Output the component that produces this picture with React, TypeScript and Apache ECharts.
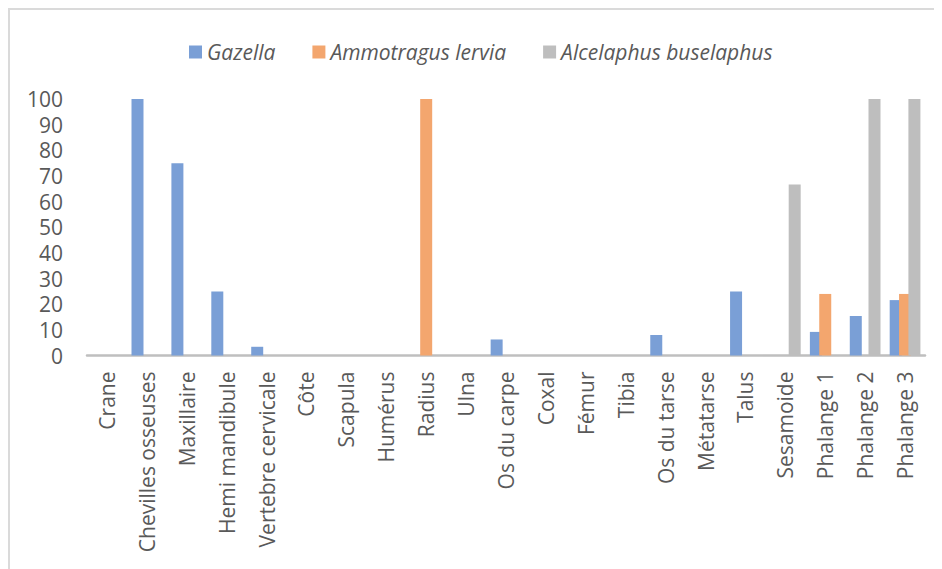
import React, { useEffect, useRef } from "react";
import * as echarts from "echarts";

const categories = [
  "Crane", "Chevilles osseuses", "Maxillaire", "Hemi mandibule", "Vertebre cervicale",
  "Côte", "Scapula", "Humérus", "Radius", "Ulna", "Os du carpe", "Coxal", "Fémur",
  "Tibia", "Os du tarse", "Métatarse", "Talus", "Sesamoide", "Phalange 1", "Phalange 2", "Phalange 3",
];
const seriesNames = ["Gazella", "Ammotragus lervia", "Alcelaphus buselaphus"];
const gazella = [0, 100, 75, 25, 3.4, 0, 0, 0, 0, 0, 6.25, 0, 0, 0, 8, 0, 25, 0, 9.2, 15.4, 21.6];
const ammotragus = [0, 0, 0, 0, 0, 0, 0, 0, 100, 0, 0, 0, 0, 0, 0, 0, 0, 0, 24, 0, 24];
const alcelaphus = [0, 0, 0, 0, 0, 0, 0, 0, 0, 0, 0, 0, 0, 0, 0, 0, 0, 66.7, 0, 100, 100];
const colors = ["#7A9FD6", "#F3A66E", "#BEBEBE"];

export default function App() {
  const ref = useRef<HTMLDivElement>(null);
  useEffect(() => {
    if (!ref.current) return;
    const chart = echarts.init(ref.current, null, { renderer: "svg" });
    const font = "'Open Sans', 'Noto Sans', sans-serif";
    const dataSets = [gazella, ammotragus, alcelaphus];
    chart.setOption({
      animation: false,
      textStyle: { fontFamily: font },
      legend: {
        left: 174,
        top: 24,
        itemWidth: 13,
        itemHeight: 13,
        itemGap: 37,
        icon: "rect",
        textStyle: { fontFamily: font, fontSize: 21, fontStyle: "italic", color: "#595959", lineHeight: 26 },
        data: seriesNames,
      },
      grid: { left: 77, right: 17, top: 89, bottom: 213.5, containLabel: false },
      xAxis: {
        type: "category",
        data: categories,
        axisLine: { lineStyle: { color: "#BFBFBF", width: 2.5 } },
        axisTick: { show: false },
        axisLabel: {
          interval: 0,
          rotate: 90,
          margin: 16,
          fontSize: 21,
          color: "#595959",
          fontFamily: font,
        },
      },
      yAxis: {
        type: "value",
        min: 0,
        max: 100,
        interval: 10,
        axisLine: { show: false },
        axisTick: { show: false },
        splitLine: { show: false },
        axisLabel: { fontSize: 21, color: "#595959", margin: 24, fontFamily: font },
      },
      series: seriesNames.map((name, i) => ({
        name,
        type: "bar",
        data: dataSets[i],
        barWidth: 12,
        barGap: "-22%",
        itemStyle: { color: colors[i] },
      })),
    });
    return () => chart.dispose();
  }, []);
  return (
    <div
      style={{
        width: 934,
        height: 561,
        boxSizing: "border-box",
        borderTop: "2px solid #DADADA",
        borderLeft: "2px solid #DADADA",
        background: "#fff",
      }}
    >
      <div ref={ref} style={{ width: 932, height: 559 }} />
    </div>
  );
}
